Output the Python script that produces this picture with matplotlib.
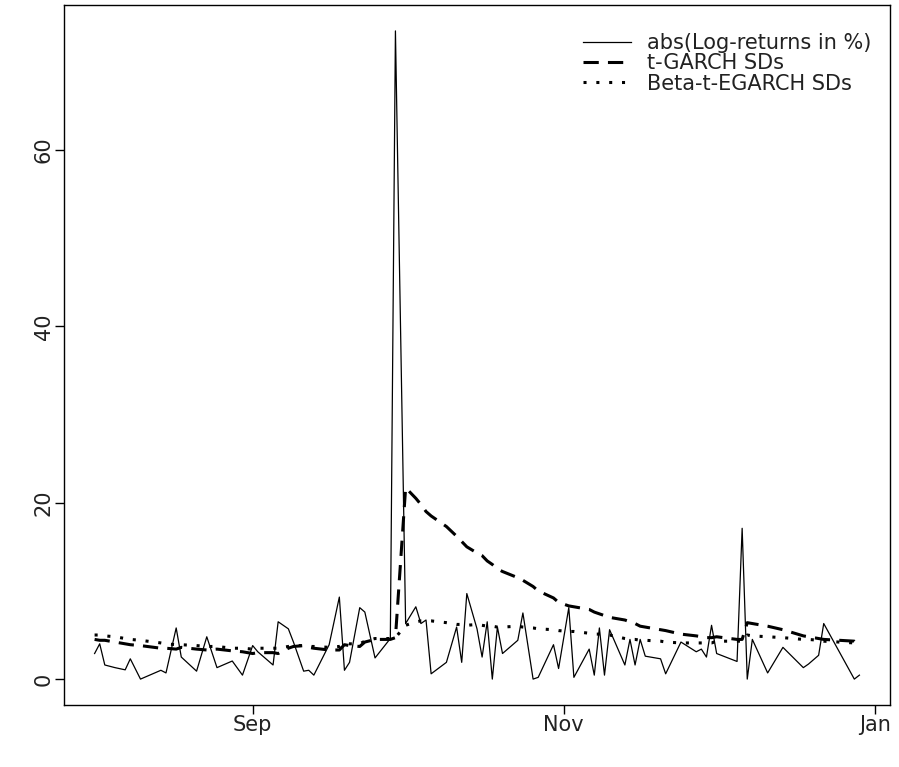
"""abs log-returns vs. t-GARCH and Beta-t-EGARCH volatility."""
import matplotlib
matplotlib.use("Agg")
import matplotlib.pyplot as plt
import matplotlib.dates as mdates
import pandas as pd

plt.rcParams["font.family"] = ["DejaVu Sans"]

dates = [
    "2017-08-01", "2017-08-02", "2017-08-03", "2017-08-05", "2017-08-07",
    "2017-08-08", "2017-08-10", "2017-08-14", "2017-08-15", "2017-08-17",
    "2017-08-18", "2017-08-21", "2017-08-23", "2017-08-25", "2017-08-28",
    "2017-08-30", "2017-09-01", "2017-09-02", "2017-09-05", "2017-09-06",
    "2017-09-08", "2017-09-09", "2017-09-11", "2017-09-12", "2017-09-13",
    "2017-09-16", "2017-09-18", "2017-09-19", "2017-09-20", "2017-09-22",
    "2017-09-23", "2017-09-25", "2017-09-28", "2017-09-29", "2017-10-01",
    "2017-10-03", "2017-10-04", "2017-10-05", "2017-10-06", "2017-10-09",
    "2017-10-11", "2017-10-12", "2017-10-13", "2017-10-15", "2017-10-16",
    "2017-10-17", "2017-10-18", "2017-10-19", "2017-10-20", "2017-10-23",
    "2017-10-24", "2017-10-26", "2017-10-27", "2017-10-30", "2017-10-31",
    "2017-11-02", "2017-11-03", "2017-11-06", "2017-11-07", "2017-11-08",
    "2017-11-09", "2017-11-10", "2017-11-13", "2017-11-14", "2017-11-15",
    "2017-11-16", "2017-11-17", "2017-11-20", "2017-11-21", "2017-11-24",
    "2017-11-27", "2017-11-28", "2017-11-29", "2017-11-30", "2017-12-01",
    "2017-12-05", "2017-12-06", "2017-12-07", "2017-12-08", "2017-12-11",
    "2017-12-14", "2017-12-18", "2017-12-19", "2017-12-21", "2017-12-22",
    "2017-12-28", "2017-12-29",
]

abs_returns = [
    2.9, 4.0, 1.6, 1.3, 1.05, 2.3, 0.0, 1.0, 0.7, 5.8,
    2.5, 0.9, 4.8, 1.3, 2.05, 0.45, 3.8, 3.1, 1.6, 6.5,
    5.7, 4.2, 0.9, 1.0, 0.45, 3.9, 9.3, 1.0, 1.9, 8.1,
    7.6, 2.4, 4.6, 73.5, 6.3, 8.2, 6.3, 6.7, 0.6, 1.9,
    5.9, 1.9, 9.7, 5.7, 2.5, 6.5, 0.0, 5.9, 2.9, 4.4,
    7.5, 0.0, 0.2, 3.9, 1.2, 8.1, 0.2, 3.4, 0.45, 5.8,
    0.45, 5.6, 1.6, 4.5, 1.6, 4.5, 2.6, 2.3, 0.6, 4.2,
    3.1, 3.4, 2.5, 6.1, 2.9, 2.0, 17.1, 0.0, 4.5, 0.7,
    3.6, 1.3, 1.7, 2.7, 6.3, 0.0, 0.45,
]

tgarch_sd = [
    4.5, 4.4, 4.4, 4.2, 4.0, 3.9, 3.8, 3.5, 3.5, 3.4,
    3.6, 3.4, 3.3, 3.4, 3.2, 3.1, 2.9, 3.0, 3.0, 2.9,
    3.5, 3.7, 3.8, 3.6, 3.5, 3.3, 3.3, 3.9, 3.8, 3.7,
    4.2, 4.5, 4.5, 4.7, 21.7, 20.5, 19.8, 19.0, 18.5, 17.3,
    16.2, 15.6, 15.0, 14.3, 14.0, 13.4, 13.0, 12.5, 12.2, 11.5,
    11.2, 10.5, 10.0, 9.2, 8.7, 8.3, 8.2, 7.9, 7.6, 7.4,
    7.2, 7.0, 6.7, 6.5, 6.3, 6.0, 5.9, 5.6, 5.5, 5.1,
    4.9, 4.8, 4.7, 4.7, 4.8, 4.5, 4.5, 6.4, 6.3, 6.0,
    5.6, 4.9, 4.8, 4.6, 4.5, 4.3, 3.8,
]

egarch_sd = [
    5.0, 5.0, 4.9, 4.8, 4.6, 4.5, 4.4, 4.1, 4.0, 3.9,
    3.9, 3.8, 3.7, 3.7, 3.5, 3.5, 3.4, 3.5, 3.5, 3.5,
    3.7, 3.8, 3.8, 3.7, 3.7, 3.6, 3.7, 4.1, 4.0, 4.0,
    4.3, 4.6, 4.6, 4.7, 6.1, 6.5, 6.6, 6.6, 6.6, 6.4,
    6.2, 6.2, 6.1, 6.2, 6.1, 6.0, 6.0, 5.9, 5.9, 6.0,
    5.9, 5.8, 5.7, 5.6, 5.5, 5.4, 5.4, 5.2, 5.1, 5.1,
    5.0, 5.0, 4.6, 4.5, 4.5, 4.4, 4.4, 4.3, 4.2, 4.1,
    4.1, 4.1, 4.1, 4.1, 4.3, 4.3, 4.3, 5.0, 4.9, 4.8,
    4.7, 4.5, 4.5, 4.4, 4.3, 4.1, 3.8,
]

legend_labels = ["abs(Log-returns in %)", "t-GARCH SDs", "Beta-t-EGARCH SDs"]

x = pd.to_datetime(dates)

fig = plt.figure(figsize=(8.99, 7.67), dpi=100)
ax = fig.add_axes([0.0712, 0.0808, 0.9188, 0.9127])

ax.plot(x, abs_returns, color="black", lw=0.9, label=legend_labels[0])
ax.plot(x, tgarch_sd, color="black", lw=2.2, dashes=(5, 3),
        label=legend_labels[1])
ax.plot(x, egarch_sd, color="black", lw=2.2, dashes=(1, 3.2),
        label=legend_labels[2])

# R-style 4% padding on both axes
xn = mdates.date2num(x)
xr = xn.max() - xn.min()
ax.set_xlim(xn.min() - 0.04 * xr, xn.max() + 0.04 * xr)
yr = max(abs_returns) - min(abs_returns)
ax.set_ylim(min(abs_returns) - 0.04 * yr, max(abs_returns) + 0.04 * yr)

ax.set_yticks([0, 20, 40, 60])
ax.set_xticks(pd.to_datetime(["2017-09-01", "2017-11-01", "2018-01-01"]))
ax.xaxis.set_major_formatter(mdates.DateFormatter("%b"))
ax.tick_params(direction="out", length=6.5, width=1.0, labelsize=15,
               colors="black", labelcolor="#222222", pad=1)
for lab in ax.get_yticklabels():
    lab.set_rotation(90)
    lab.set_va("center")

for s in ax.spines.values():
    s.set_linewidth(1.0)

leg = ax.legend(loc="upper right", bbox_to_anchor=(0.988, 0.972),
                frameon=False, fontsize=15, handlelength=2.3,
                handletextpad=0.8, labelspacing=0.02, borderaxespad=0.0)
for t in leg.get_texts():
    t.set_color("#222222")

fig.savefig("out.png", dpi=100)
